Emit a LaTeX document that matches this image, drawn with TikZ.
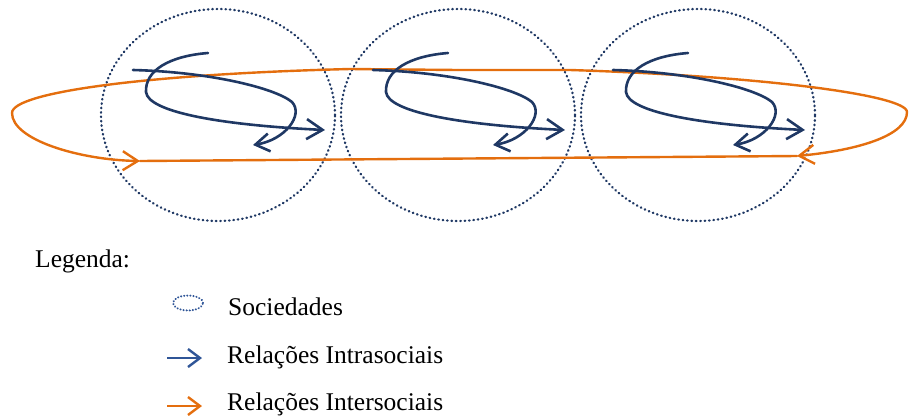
\documentclass[tikz,border=0pt]{standalone}
\usepackage{fontspec}
\setmainfont{Liberation Serif}
\usetikzlibrary{arrows.meta}
\definecolor{navy}{RGB}{31,56,100}
\definecolor{legblue}{RGB}{47,85,151}
\definecolor{orng}{RGB}{228,110,14}
\tikzset{
  society/.style={draw=navy, line width=2.3pt, line cap=round, dash pattern=on 0.6pt off 3.8pt},
  intra/.style={draw=navy, line width=2.6pt, line cap=round},
  inter/.style={draw=orng, line width=2.4pt, line cap=round},
  barbbig/.style={-{Straight Barb[length=16pt,width=20pt,line width=2.6pt]}},
  barbsmall/.style={-{Straight Barb[length=14pt,width=18pt,line width=2.6pt]}},
  barbor/.style={-{Straight Barb[length=15pt,width=19pt,line width=2.4pt]}},
  legtext/.style={anchor=base west, inner sep=0pt, font=\fontsize{25.5}{30}\selectfont, text=black}
}
\begin{document}
\begin{tikzpicture}[x=1pt,y=-1pt]
\useasboundingbox (0,0) rectangle (910,416);
% societies
\foreach \d in {0,240,480}{
  \draw[society] (218+\d,115) ellipse [x radius=117pt, y radius=106pt];
}
% intersocial relations (orange loop)
\coordinate (tm) at (458,70);
\coordinate (tl) at (350,69);
\coordinate (tr) at (570,70);
\coordinate (lt) at (12,113);
\coordinate (rt) at (907,112);
\coordinate (la) at (140,161);
\coordinate (ra) at (797,156);
\draw[inter] (la) -- (ra);
\draw[inter, barbor] (tm) -- (tl) .. controls (150,74) and (12,92) .. (lt)
   .. controls (12,140) and (80,160) .. (la);
\draw[inter, barbor] (tm) -- (tr) .. controls (760,76) and (907,95) .. (rt)
   .. controls (907,135) and (860,150) .. (ra);
% intrasocial relations
\foreach \d in {0,240,480}{
  \begin{scope}[xshift=\d pt]
    \draw[intra, barbsmall] (133,70) .. controls (210,72) and (275,88) .. (292,102)
       .. controls (304,115) and (285,140) .. (253,145);
    \draw[intra, barbbig] (208,53) .. controls (170,56) and (145,70) .. (146,92)
       .. controls (148,112) and (220,125) .. (325,130);
  \end{scope}
}
% legend
\node[legtext] (leg) at (35,267) {Legenda:};
\draw[draw=legblue, line width=2pt, line cap=round, dash pattern=on 0.3pt off 2.8pt]
  (188,303) ellipse [x radius=15pt, y radius=7.5pt];
\node[legtext] (soc) at (228,315) {Sociedades};
\coordinate (a1) at (167,358);
\coordinate (b1) at (202,358);
\draw[draw=legblue, line width=2.4pt, -{Straight Barb[length=12pt,width=18pt,line width=2.4pt]}] (a1) -- (b1);
\node[legtext] (intra) at (227,363) {Relações Intrasociais};
\coordinate (a2) at (167,406);
\coordinate (b2) at (202,406);
\draw[draw=orng, line width=2.4pt, -{Straight Barb[length=12pt,width=18pt,line width=2.4pt]}] (a2) -- (b2);
\node[legtext] (inter) at (227,410) {Relações Intersociais};
\end{tikzpicture}
\end{document}
